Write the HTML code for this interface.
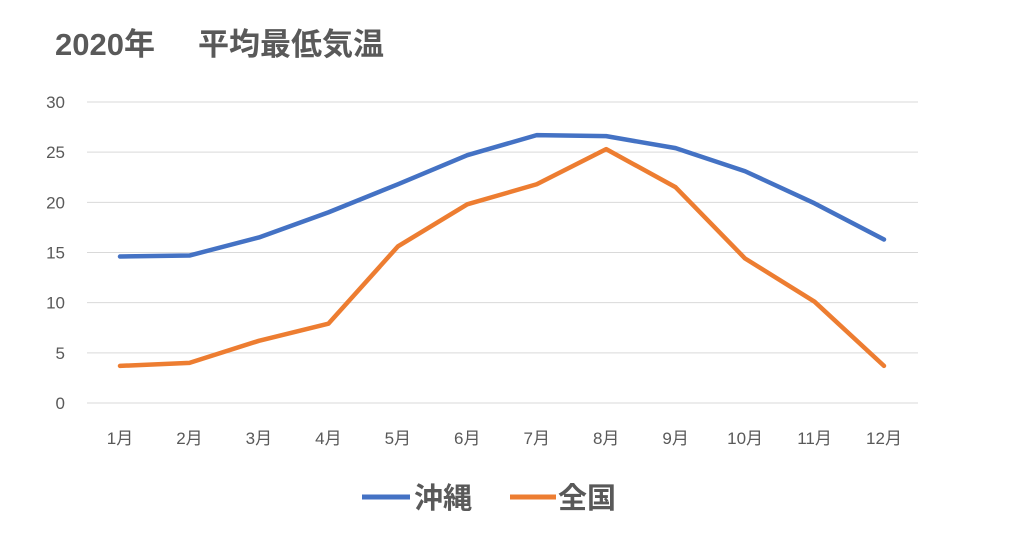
<!DOCTYPE html>
<html><head><meta charset="utf-8">
<style>
body{margin:0;background:#fff;width:1024px;height:547px;overflow:hidden;font-family:"Liberation Sans","Noto Sans CJK JP",sans-serif;}
svg text{font-family:"Liberation Sans","Noto Sans CJK JP",sans-serif;}
</style></head>
<body>
<svg id="chart" width="1024" height="547">
<text x="55" y="55" font-size="31" font-weight="bold" fill="#595959">2020年<tspan x="198">平均最低気温</tspan></text>
<g id="grid"></g><g id="ylabels"></g><g id="xlabels"></g><g id="series"></g>
<g>
<line x1="362" y1="497" x2="410" y2="497" stroke="#4472C4" stroke-width="5"/>
<text x="414" y="508" font-size="29" font-weight="bold" fill="#595959">沖縄</text>
<line x1="510" y1="497" x2="556" y2="497" stroke="#ED7D31" stroke-width="5"/>
<text x="558" y="508" font-size="29" font-weight="bold" fill="#595959">全国</text>
</g>
</svg>
<script>
const categories=["1月","2月","3月","4月","5月","6月","7月","8月","9月","10月","11月","12月"];
const okinawa=[14.6,14.7,16.5,19.0,21.8,24.7,26.7,26.6,25.4,23.1,19.9,16.3];
const national=[3.7,4.0,6.2,7.9,15.6,19.8,21.8,25.3,21.5,14.4,10.1,3.7];
const yTicks=[0,5,10,15,20,25,30];
const NS="http://www.w3.org/2000/svg";
const y=v=>403-v*(301/30);
const x=i=>120+i*(764/11);
function mk(t,a,p){const e=document.createElementNS(NS,t);for(const k in a)e.setAttribute(k,a[k]);p.appendChild(e);return e;}
const grid=document.getElementById('grid'),yl=document.getElementById('ylabels'),xl=document.getElementById('xlabels'),se=document.getElementById('series');
yTicks.forEach(v=>{
const l=mk('line',{x1:87,x2:918,y1:y(v),y2:y(v),stroke:'#d9d9d9','stroke-width':1},grid);


const t=mk('text',{x:65,y:y(v)+6,'font-size':17,fill:'#595959','text-anchor':'end'},yl);
t.textContent=v;


});
categories.forEach((c,i)=>{
const t=mk('text',{x:x(i),y:444,'font-size':17,fill:'#595959','text-anchor':'middle'},xl);
t.textContent=c;


});
function line(d,col,name){
const p=mk('polyline',{points:d.map((v,i)=>x(i)+','+y(v)).join(' '),fill:'none',stroke:col,'stroke-width':4.5,'stroke-linejoin':'round','stroke-linecap':'round'},se);


}
line(okinawa,'#4472C4','okinawa-line');
line(national,'#ED7D31','national-line');
</script>
</body></html>
